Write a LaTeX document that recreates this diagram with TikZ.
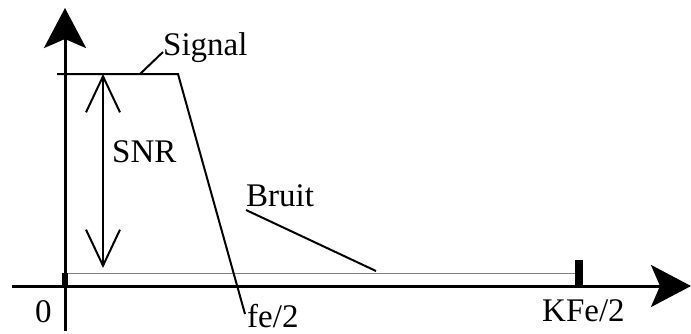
\documentclass[tikz,border=0pt]{standalone}
\usepackage{fontspec}
\setmainfont{Liberation Serif}
\usetikzlibrary{arrows.meta}
\begin{document}
\begin{tikzpicture}[x=1pt,y=-1pt,
  axis/.style={line width=3pt,-{Stealth[length=40pt,width=42pt,inset=9pt]}},
  thinline/.style={line width=2pt},
  snrarrow/.style={line width=2pt,{Straight Barb[length=36pt,width=34pt]}-{Straight Barb[length=36pt,width=34pt]}},
  noise/.style={draw=gray,line width=1pt},
  lbl/.style={font=\fontsize{33}{39}\selectfont,inner sep=0pt,anchor=base west}]
\useasboundingbox (0,0) rectangle (691,333);
% axes
\coordinate (ybot) at (65,331);
\coordinate (ytop) at (65,8);
\coordinate (xleft) at (12,286);
\coordinate (xright) at (691,286);
\draw[axis] (ybot) -- (ytop);
\draw[axis] (xleft) -- (xright);
% noise level
\coordinate (n1) at (65,273);
\coordinate (n2) at (577,273);
\draw[noise] (n1) -- (n2);
\fill[black] (62,273) rectangle (68,286);
\fill[black] (575,260) rectangle (583,288);
% signal
\coordinate (sa) at (57,74);
\coordinate (sb) at (178,74);
\coordinate (sc) at (245,314);
\draw[thinline] (sa) -- (sb) -- (sc);
% SNR
\coordinate (r1) at (103,74);
\coordinate (r2) at (103,268);
\draw[snrarrow] (r1) -- (r2);
% labels
\node[lbl] (signal) at (163,55) {Signal};
\node[lbl] (snr) at (112,162) {SNR};
\node[lbl] (bruit) at (246,206) {Bruit};
\node[lbl] (zero) at (35,322) {0};
\node[lbl] (fe) at (247,327) {fe/2};
\node[lbl] (kfe) at (542,321) {KFe/2};
% leaders
\coordinate (sl1) at (140,74);
\coordinate (sl2) at (163,52);
\draw[thinline] (sl1) -- (sl2);
\coordinate (bl1) at (246,210);
\coordinate (bl2) at (376,271);
\draw[thinline] (bl1) -- (bl2);
\end{tikzpicture}
\end{document}
